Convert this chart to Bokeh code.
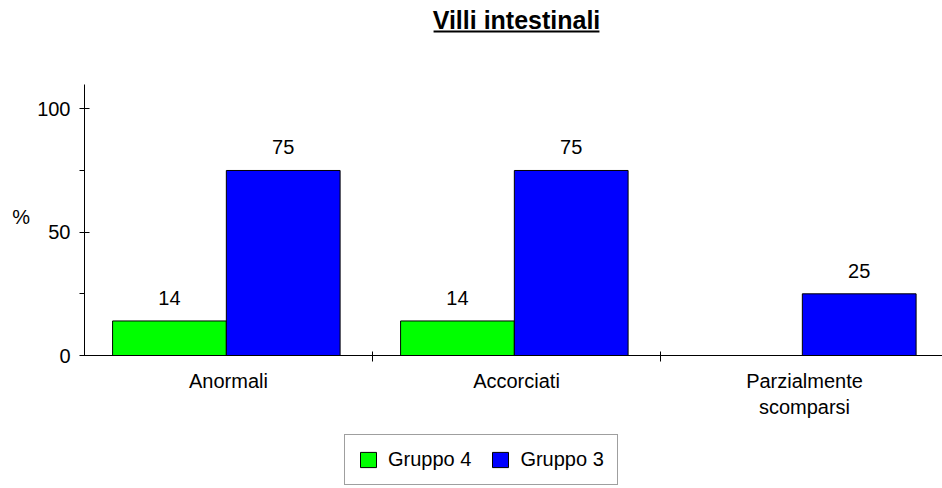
from bokeh.plotting import figure
from bokeh.models import Range1d, FixedTicker, Legend, LegendItem, Label, ColumnDataSource
from bokeh.embed import file_html
from bokeh.resources import INLINE
from bokeh.core.properties import value
from bokeh.transform import dodge

# ---- data ----
title = "Villi intestinali"
categories = ["Anormali", "Accorciati", "Parzialmente\nscomparsi"]
series_names = ["Gruppo 4", "Gruppo 3"]
gruppo4 = [14, 14, 0]
gruppo3 = [75, 75, 25]
y_ticks = [0, 50, 100]
y_minor_ticks = [25, 75]
y_label = "%"

FONT = "Liberation Sans"
GREEN = "#00FF00"
BLUE = "#0000FF"

xc = [i + 0.5 for i in range(len(categories))]
src = ColumnDataSource(dict(
    x=xc, g4=gruppo4, g3=gruppo3,
    g4_lbl=[str(v) if v else "" for v in gruppo4],
    g3_lbl=[str(v) if v else "" for v in gruppo3],
))

# layout constants (pixels)
W_PX, H_PX = 942, 488
X0, Y0 = 84, 355          # screen position of data origin
CAT_PX = 288              # width of one category
PX = 2.467                # pixels per % unit

p = figure(width=W_PX, height=H_PX, output_backend="svg", toolbar_location=None,
           x_range=Range1d(-X0 / CAT_PX, (W_PX - X0) / CAT_PX),
           y_range=Range1d(-(H_PX - Y0) / PX, Y0 / PX),
           min_border_left=0, min_border_right=0, min_border_top=0,
           min_border_bottom=0)
p.xgrid.visible = False
p.ygrid.visible = False
p.outline_line_color = None
p.background_fill_color = "white"

OFF4, OFF3, W = -0.205, 0.19, 0.395
r4 = p.vbar(x=dodge("x", OFF4, range=p.x_range), top="g4", width=W, source=src,
            fill_color=GREEN, line_color="black", line_width=1)
r3 = p.vbar(x=dodge("x", OFF3, range=p.x_range), top="g3", width=W, source=src,
            fill_color=BLUE, line_color="black", line_width=1)

for off, col in ((OFF4, "g4"), (OFF3, "g3")):
    p.text(x=dodge("x", off, range=p.x_range), y=col, text=col + "_lbl", source=src,
           text_align="center", text_baseline="alphabetic", y_offset=-23,
           text_font=value(FONT), text_font_size="20px", text_color="black")

# axes (fixed at the data origin)
xa = p.xaxis[0]
xa.fixed_location = 0
xa.bounds = (0, (W_PX - X0) / CAT_PX)
xa.ticker = FixedTicker(ticks=xc, minor_ticks=list(range(1, len(categories))))
xa.major_label_overrides = {x: c for x, c in zip(xc, categories)}
xa.major_tick_in = 0
xa.major_tick_out = 0
xa.minor_tick_in = 4
xa.minor_tick_out = 6
xa.major_label_standoff = 8
xa.major_label_text_font = FONT
xa.major_label_text_font_size = "20px"
xa.major_label_text_color = "black"
xa.axis_line_color = "black"

ya = p.yaxis[0]
ya.fixed_location = 0
ya.ticker = FixedTicker(ticks=y_ticks, minor_ticks=y_minor_ticks)
ya.bounds = (0, 110)
ya.major_tick_in = 5
ya.major_tick_out = 5
ya.minor_tick_in = 0
ya.minor_tick_out = 5
ya.major_label_standoff = 9
ya.major_label_text_font = FONT
ya.major_label_text_font_size = "20px"
ya.major_label_text_color = "black"
ya.axis_line_color = "black"

p.add_layout(Label(x=-0.22, y=56.3, text=y_label, text_align="center",
                   text_baseline="middle", text_font=FONT, text_font_size="20px",
                   text_color="black"))

# title (bold, underlined)
p.add_layout(Label(x=1.5, y=(Y0 - 19) / PX, text=title, text_align="center",
                   text_baseline="alphabetic", text_font=FONT,
                   text_font_style="bold", text_font_size="25px", text_color="black"))
p.segment(x0=[1.212], x1=[1.788], y0=[(Y0 - 31) / PX], y1=[(Y0 - 31) / PX],
          line_width=2, line_color="black")

legend = Legend(items=[LegendItem(label=series_names[0], renderers=[r4]),
                       LegendItem(label=series_names[1], renderers=[r3])],
                orientation="horizontal", location=(344, 3),
                glyph_width=20, glyph_height=19, label_standoff=10, spacing=19,
                padding=13, margin=0, border_line_color="#404040",
                label_text_font=FONT, label_text_font_size="20px",
                label_text_color="black", background_fill_alpha=1.0)
p.add_layout(legend)

open("out.html", "w").write(file_html(p, INLINE))
